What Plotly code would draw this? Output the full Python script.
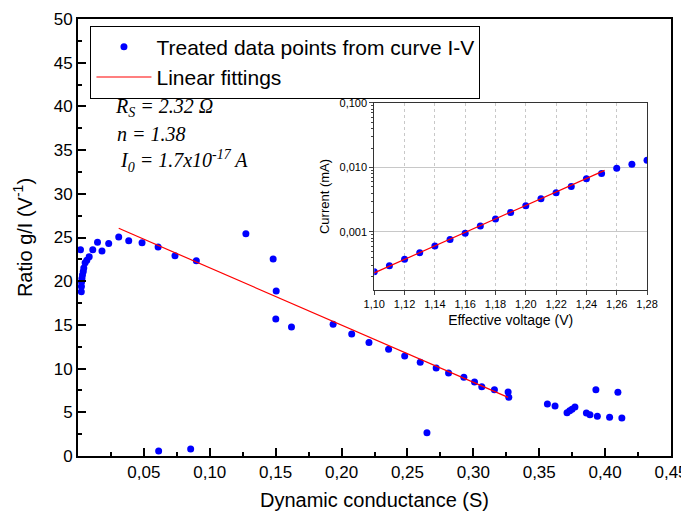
import plotly.graph_objects as go

# ---- main chart data ----
g_values = [0.0019, 0.0025, 0.0026, 0.0027, 0.0030, 0.0034, 0.0040, 0.0044,
            0.0054, 0.0067, 0.0085, 0.0112, 0.0148, 0.0182, 0.0233, 0.0309,
            0.0385, 0.0486, 0.0608, 0.0736, 0.0898, 0.1274, 0.1481, 0.1504,
            0.1501, 0.1620, 0.1936, 0.2077, 0.2208, 0.2357, 0.2479, 0.2597,
            0.2718, 0.2812, 0.2928, 0.3009, 0.3064, 0.3160, 0.3264, 0.3269,
            0.0612, 0.0855, 0.2648,
            0.3562, 0.3620, 0.3711, 0.3731, 0.3749, 0.3771, 0.3858, 0.3885,
            0.3930, 0.3941, 0.4034, 0.4097, 0.4127]
ratio_values = [23.6, 18.8, 19.4, 19.9, 20.3, 20.7, 21.1, 21.5,
                22.1, 22.4, 22.8, 23.6, 24.45, 23.45, 24.3, 25.06,
                24.63, 24.41, 23.91, 22.92, 22.35, 25.43, 22.54, 18.88,
                15.68, 14.76, 15.07, 13.96, 13.0, 12.2, 11.44, 10.72,
                10.07, 9.5, 9.0, 8.47, 7.93, 7.59, 7.32, 6.71,
                0.57, 0.80, 2.67,
                5.95, 5.72, 4.96, 5.19, 5.34, 5.61, 4.92, 4.73,
                7.59, 4.54, 4.42, 7.29, 4.35]
fit_g = [0.0309, 0.3264]
fit_ratio = [26.05, 6.71]

x_ticks = [0.05, 0.10, 0.15, 0.20, 0.25, 0.30, 0.35, 0.40, 0.45]

# ---- inset data ----
volt_values = [1.10, 1.11, 1.12, 1.13, 1.14, 1.15, 1.16, 1.17, 1.18, 1.19,
               1.20, 1.21, 1.22, 1.23, 1.24, 1.25, 1.26, 1.27, 1.28]
current_values = [0.000240, 0.000297, 0.000373, 0.000473, 0.000600, 0.000760,
                  0.000950, 0.001225, 0.001573, 0.002000, 0.002530, 0.003250,
                  0.004030, 0.005060, 0.006640, 0.008030, 0.009730, 0.011200,
                  0.012900]
fit_volt = [1.10, 1.252]
fit_current = [0.000230, 0.00900]

inset_xticks = [1.10, 1.12, 1.14, 1.16, 1.18, 1.20, 1.22, 1.24, 1.26, 1.28]
inset_yticks = [0.001, 0.01, 0.1]
inset_yticktext = ["0,001", "0,010", "0,100"]

BLUE = "#0000ff"
RED = "#ff0000"
SANS = "Liberation Sans, Arial, sans-serif"
SERIF = "Liberation Serif, Times New Roman, serif"

fig = go.Figure()

fig.add_trace(go.Scatter(x=g_values, y=ratio_values, mode="markers",
                         marker=dict(color=BLUE, size=7),
                         name="Treated data points from curve I-V"))
fig.add_trace(go.Scatter(x=fit_g, y=fit_ratio, mode="lines",
                         line=dict(color=RED, width=1.2),
                         name="Linear fittings"))

fig.add_trace(go.Scatter(x=volt_values, y=current_values, mode="markers",
                         marker=dict(color=BLUE, size=7),
                         xaxis="x2", yaxis="y2", showlegend=False))
fig.add_trace(go.Scatter(x=fit_volt, y=fit_current, mode="lines",
                         line=dict(color=RED, width=1.2),
                         xaxis="x2", yaxis="y2", showlegend=False))

minor_log = [m * 10 ** e for e in (-4, -3, -2) for m in range(2, 10)]

# the page body has an 8px margin, so the figure is offset by 8px
fig.update_layout(
    width=689, height=511,
    margin=dict(l=69.5, r=26, t=11, b=63, autoexpand=False),
    paper_bgcolor="white", plot_bgcolor="white",
    separators=",.",
    font=dict(family=SANS, color="black"),
    showlegend=True,
    legend=dict(x=0.021, y=0.985, xanchor="left", yanchor="top",
                bgcolor="white", bordercolor="black", borderwidth=1,
                font=dict(size=21, family=SANS), itemwidth=55,
                tracegroupgap=0),
    xaxis=dict(range=[0, 0.45], tickvals=x_ticks, tickformat=".2f",
               automargin=False,
               ticks="inside", ticklen=8, tickwidth=1.5, tickcolor="black",
               minor=dict(dtick=0.025, tick0=0, ticks="inside", ticklen=4,
                          tickcolor="black", tickwidth=1.5),
               showline=True, linecolor="black", linewidth=2, mirror=True,
               showgrid=False, zeroline=False,
               tickfont=dict(size=17),
               title=dict(text="Dynamic conductance (S)", font=dict(size=20),
                          standoff=12)),
    yaxis=dict(range=[0, 50], dtick=5, tick0=0, automargin=False,
               ticks="inside", ticklen=8, tickwidth=1.5, tickcolor="black",
               minor=dict(dtick=2.5, tick0=0, ticks="inside", ticklen=4,
                          tickcolor="black", tickwidth=1.5),
               showline=True, linecolor="black", linewidth=2, mirror=True,
               showgrid=False, zeroline=False,
               tickfont=dict(size=17),
               title=dict(text="Ratio g/I (V<sup>-1</sup>)", font=dict(size=20),
                          standoff=16)),
    xaxis2=dict(domain=[0.4996, 0.9596], anchor="y2", range=[1.10, 1.28],
                tickvals=inset_xticks, tickformat=".2f", automargin=False,
                ticks="outside", ticklen=4, tickcolor="#444",
                showline=True, linecolor="#333", linewidth=1, mirror=True,
                showgrid=True, gridcolor="#c8c8c8", griddash="dot", gridwidth=1.2,
                zeroline=False, tickfont=dict(size=11),
                title=dict(text="Effective voltage (V)", font=dict(size=14),
                           standoff=6)),
    yaxis2=dict(domain=[0.3799, 0.8078], anchor="x2", type="log",
                range=[-3.904, -1], tickvals=inset_yticks,
                ticktext=inset_yticktext, automargin=False,
                ticks="outside", ticklen=4, tickcolor="#444",
                minor=dict(tickvals=minor_log, ticks="outside", ticklen=2,
                           tickcolor="#444", showgrid=False),
                showline=True, linecolor="#333", linewidth=1, mirror=True,
                showgrid=True, gridcolor="#c8c8c8", gridwidth=1.2,
                zeroline=False, tickfont=dict(size=11),
                title=dict(text="Current (mA)", font=dict(size=13),
                           standoff=6)),
    annotations=[
        dict(text="<i>R<sub>S</sub> = 2.32 Ω</i>", xref="paper", yref="paper",
             x=0.0598, y=0.7986, xanchor="left", yanchor="middle",
             showarrow=False, font=dict(family=SERIF, size=20)),
        dict(text="<i>n = 1.38</i>", xref="paper", yref="paper",
             x=0.0632, y=0.7368, xanchor="left", yanchor="middle",
             showarrow=False, font=dict(family=SERIF, size=20)),
        dict(text="<i>I<sub>0</sub> = 1.7x10<sup>-17</sup> A</i>",
             xref="paper", yref="paper",
             x=0.0682, y=0.675, xanchor="left", yanchor="middle",
             showarrow=False, font=dict(family=SERIF, size=20)),
    ],
)

fig.write_html("out.html")
